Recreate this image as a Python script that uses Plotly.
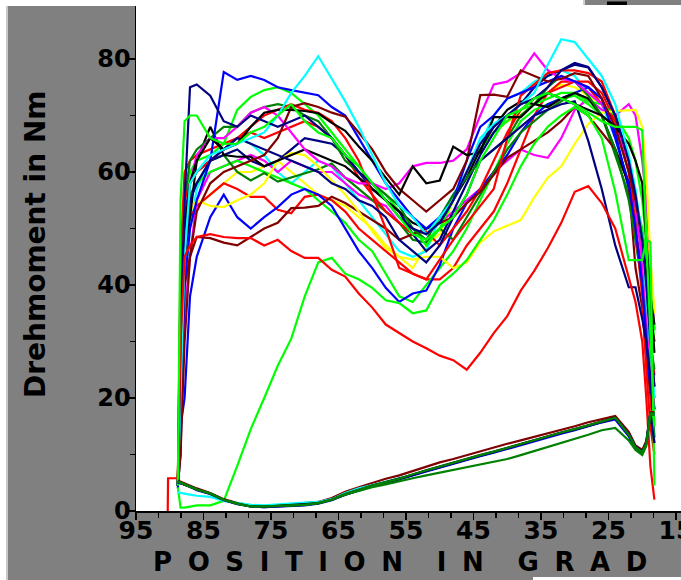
import plotly.graph_objects as go

N = None
# x grid (degrees) shared by all series
X = [90.3, 90.25, 88.8, 88.4, 87.8, 87.0,
     86, 84, 82, 80, 78, 76, 74, 72, 70, 68, 66,
     64, 62, 60, 58, 56, 54, 52, 50, 48, 46, 44,
     42, 40, 38, 36, 34, 32, 30, 28, 26, 24, 22,
     21, 20, 19.4, 18.8, 18.2]

CYAN_HI = [N, N, 4.5, 20, 45, 58,
           60, 63, 64, 65, 66, 67, 70, 74, 77, 80.5, 76.5,
           72.5, 68, 63, 58, 54, 52, 49, 52, 55, 60, 66,
           68.5, 70, 72, 74, 79, 83.5, 83, 80, 77, 72, 63,
           57, 48, 38, 29, 20]
BLUE_HI = [N, N, 4.5, 20, 40, 50,
           55, 62, 77.7, 76.3, 77, 76.3, 75, 74.5, 74, 73.6, 71.5,
           70, 66, 62, 58, 55, 52, 50, 52, 55, 62, 68,
           70, 73, 74, 75, 76, 77, 76, 75, 73, 66, 58,
           50, 40, 30, 22, 18]
NAVY_HI = [N, N, 4.5, 30, 55, 75,
           75.5, 73.5, 69, 68, 70, 69, 68, 69, 70, 68, 66,
           63, 60, 58, 55, 52, 50, 49, 51, 55, 60, 65,
           68, 70, 72, 73, 75, 78, 79, 78.5, 75, 70, 62,
           56, 48, 40, 30, 22]
NAVY_DIVE = [N, N, 4.5, 10, 45, 55,
             58, 62, 64, 66, 65, 64, 63, 62, 61, 60, 58,
             57, 55, 54, 52, 48, 46, 44, 47, 52, 56, 62,
             64, 66, 68, 70, 71, 72, 72.5, 65.5, 57, 47, 39.6,
             39.6, 34, 30, 24, 13]
RED_LOW = [0, 5.8, 5.8, 30, 45, 47,
           48.5, 49, 48.5, 48.3, 48.3, 47, 48, 46, 44.8, 44.8, 42.7,
           41.5, 38.5, 36, 33, 31.5, 30, 28.8, 27.5, 26.7, 25, 28,
           31.5, 34.5, 39, 42.5, 46.5, 51, 56.5, 57.5, 54.5, 50, 41,
           37, 30, 20, 8, 2]
LIME_RISER = [N, N, 4.2, 0.6, 0.6, 0.8,
              1.0, 1.0, 1.8, 8, 14.5, 20, 25.7, 30.5, 38, 44, 44.8,
              42, 41, 39.5, 37.3, 36.8, 35, 35.5, 40, 42, 44.4, 48,
              51.5, 56, 61, 65, 68, 70, 71.5, 70, 66, 56.5, 44.4,
              44.4, 44.4, 48, 30, 15]
YELLOW_LO = [N, N, 4.5, 30, 50, 53,
             55, 54, 53.8, 55, 56, 58, 62, 63.4, 63, 61, 58.5,
             56, 53, 49.5, 46.5, 45, 44.5, 45, 45, 43, 44, 47.5,
             49.5, 50.5, 51.5, 55.5, 59, 61, 65, 68.5, 70.5, 70.8, 71,
             71, 68, 60, 45, 35]
MAGENTA_HI = [N, N, 4.5, 25, 50, 58,
              63, 66, 66, 68, 70.5, 71.5, 70, 67, 64, 62, 61,
              59, 58, 58, 57, 58, 61, 61.6, 61.6, 62, 64, 70,
              75.5, 76, 77.5, 81, 78, 76.5, 76, 74, 72, 68, 62,
              54, 44, 36, 26, 18]
MAGENTA_2 = [N, N, 4.5, 15, 35, 45,
             55, 60, 61, 62, 63, 62, 60, 62, 61, 60, 60,
             58, 56, 55, 54, 51, 49, 50, 51, 53, 55, 57,
             60, 62, 64, 63, 62.5, 66, 71, 73, 71, 70, 72,
             70, 62, 55, 45, 32]
BLACK_1 = [N, N, 4.5, 30, 50, 58,
           62, 66, 64, 65, 68, 70.5, 71, 71, 70.8, 70.4, 68.7,
           67.3, 64.5, 62, 59, 56, 61, 58, 58.5, 64.5, 63, 63.5,
           69.7, 69.7, 69.7, 72, 74, 73, 72, 71, 70, 68, 65,
           62, 58, 48, 38, 28]
BLACK_2 = [N, N, 4.5, 20, 45, 52,
           62, 68, 63, 62.7, 62.7, 61, 62, 63, 64, 63, 62,
           61, 59, 57, 55, 53, 51, 50, 51, 55, 59, 64,
           68, 71, 72.5, 72, 71.5, 73, 74, 73, 70, 64, 58,
           54, 48, 42, 38, 33]
MAROON_1 = [N, N, 4.5, 25, 40, 45,
            48.5, 48.3, 47.5, 47, 48.5, 50, 51, 53.6, 53.7, 54, 55.6,
            54.5, 53, 51.5, 50, 48, 49, 50, 51, 52, 54.5, 56.5,
            59.5, 62.5, 64, 65.5, 67, 69, 71.5, 70, 67, 64, 58,
            43, 36, 27, 21, 20]
MAROON_2 = [N, N, 4.5, 10, 30, 45,
            53, 58, 60, 61, 62, 63, 66, 71.5, 72.2, 71.5, 70.5,
            69.8, 67, 64, 60, 57, 55, 53, 55, 57, 62, 73.6,
            73.7, 73.3, 78, 77, 76, 76.5, 77.5, 77, 73, 68, 60,
            55, 48, 40, 34, 30]
LIME_HI = [N, N, 4.5, 55, 69, 70,
           70, 66, 65, 65, 67, 68, 70, 72, 69, 67, 66,
           63, 61, 58, 55, 52, 49, 48, 50, 52, 56, 62,
           66, 70, 71, 73, 74, 73, 72, 70.5, 69, 68, 68,
           68, 67.4, 48, 47.6, 4.5]
LIME_2 = [N, N, 4.5, 40, 55, 60,
          62, 63, 65, 71, 73.3, 74.5, 75, 74, 72, 70, 67,
          64, 61, 58, 56, 53, 50, 47, 50, 55, 60, 64,
          67, 69, 71, 72, 73, 74, 74, 72.5, 72, 70, 66,
          62, 55, 48, 40, 32]
DGREEN_1 = [N, N, 4.5, 40, 52, 56,
            58, 62, 63, 60, 58.5, 59.8, 58.3, 59, 59.8, 60.5, 61.5,
            59, 57, 55, 53, 51, 48, 47.5, 50, 48, 52, 56,
            60, 64, 67, 69, 71, 72.5, 74, 73, 70, 63, 56,
            52, 46, 40, 25, 18]
DGREEN_2 = [N, N, 4.5, 35, 55, 62,
            64, 66, 68, 68, 70.5, 71.5, 72, 71.5, 70, 69, 66,
            62, 60, 58, 56, 54, 50, 48, 52, 56, 59, 62,
            64, 66, 70, 72, 75, 77, 76, 73.5, 70, 64, 55,
            48, 40, 35, 30, 25]
RED_HI = [N, N, 6, 40, 55, 58,
          60, 62, 64, 66, 68, 70, 71, 72, 71, 70.5, 69,
          66, 62, 56, 50, 43, 42, 41, 44.5, 48, 51, 54,
          57, 66, 73.5, 75.5, 77.5, 78, 78, 77.5, 76, 70, 62,
          50, 38, 25, 15, 10]
RED_2 = [N, N, 5, 35, 50, 52,
         54, 56, 58, 57, 55.6, 55.6, 53.3, 52.7, 55.6, 56, 55,
         53, 50, 48, 46, 44, 42, 41, 41, 43, 47, 50,
         53, 58, 64, 70, 74, 76, 76, 75, 72, 69, 62,
         56, 47, 38, 30, 24]
RED_3 = [N, N, 4.5, 45, 60, 62,
         63, 64, 65, 66, 67, 66, 67, 68, 69, 68, 66,
         63, 59, 56, 53, 51, 49, 49.5, 47, 50, 53, 57,
         62, 67, 71, 73, 74, 75, 76, 76, 74, 69, 60,
         50, 40, 30, 20, 12]
BLUE_2 = [N, N, 4, 15, 20, 38,
          45, 52, 56, 52, 50, 52, 53.8, 56, 57, 56, 54,
          50, 46, 43, 39.5, 37, 38.5, 39, 43.5, 50, 54.5, 57,
          60, 63, 67, 70, 72, 73, 74, 75, 73, 67, 57,
          50, 42, 32, 25, 20]
CYAN_2 = [N, N, 4.5, 25, 40, 50,
          57, 62, 64, 66, 65, 63, 60, 58, 60, 62, 61,
          58, 55, 52, 49, 46, 45, 46, 52, 56, 60, 65,
          70, 73, 74, 76, 77, 78, 77, 74, 72, 66, 58,
          48, 40, 30, 22, 16]
LIME_3 = [N, N, 4.5, 30, 48, 55,
          58, 60, 61, 62, 61, 60, 59, 58, 57, 55, 53,
          51, 48, 46, 42, 38, 37, 40, 43, 46, 50, 55,
          60, 65, 69, 71, 72, 73, 73.5, 72, 70, 68, 60,
          55, 50, 45, 38, 30]
NAVY_2 = [N, N, 4.5, 35, 52, 58,
          60, 62, 63, 64, 62, 61, 62, 64, 66, 65.5, 65,
          63, 60, 57, 55, 53, 49, 46, 48, 53, 58, 63,
          67, 70, 72, 75, 77, 78, 79.3, 78.6, 75, 70, 62,
          56, 48, 40, 30, 22]
YELLOW_2 = [N, N, 4.5, 20, 45, 52,
            54, 56, 58, 60, 60, 61, 62, 60, 58, 56, 55,
            54, 52, 50, 47, 45, 43, 47, 49, 55, 60, 64,
            67, 69, 70, 72, 74, 75.5, 75, 73.5, 72, 70, 66,
            62, 58, 52, 44, 35]

# low-torque bundle
LOW_MAROON = [N, N, 5.4, 5.2, 5.0, 4.6,
              4.0, 3.2, 2.1, 1.4, 0.9, 0.8, 1.0, 1.1, 1.3, 1.6, 2.3,
              3.4, 4.2, 5.0, 5.7, 6.3, 7.1, 7.9, 8.6, 9.2, 9.9, 10.6,
              11.2, 11.9, 12.5, 13.1, 13.8, 14.4, 15.0, 15.7, 16.3, 16.8, 14.0,
              11.6, 10.8, 12.4, 17.5, 17.5]
LOW_BLUE = [N, N, 5.0, 4.9, 4.7, 4.3,
            3.7, 3.0, 1.9, 1.2, 0.8, 0.7, 0.8, 0.9, 1.0, 1.3, 1.9,
            2.9, 3.7, 4.4, 5.0, 5.6, 6.3, 7.0, 7.7, 8.3, 9.0, 9.7,
            10.3, 11.0, 11.7, 12.3, 13.0, 13.7, 14.3, 15.0, 15.7, 16.2, 13.2,
            11.0, 10.2, 11.8, 17.0, 17.0]
LOW_CYAN = [N, N, 3.3, 3.2, 3.0, 2.9,
            2.7, 2.5, 1.8, 1.4, 1.1, 1.0, 1.2, 1.4, 1.5, 1.6, 2.1,
            3.2, 4.0, 4.6, 5.2, 5.7, 6.4, 7.1, 7.8, 8.4, 9.1, 9.8,
            10.4, 11.1, 11.8, 12.4, 13.1, 13.8, 14.4, 15.1, 15.8, 16.4, 13.4,
            11.2, 10.3, 11.9, 17.2, 17.2]
LOW_NAVY = [N, N, 5.1, 4.9, 4.7, 4.3,
            3.8, 3.0, 2.0, 1.3, 0.8, 0.7, 0.8, 0.9, 1.1, 1.4, 2.0,
            2.9, 3.7, 4.4, 5.0, 5.6, 6.4, 7.1, 7.8, 8.4, 9.1, 9.8,
            10.4, 11.1, 11.8, 12.4, 13.1, 13.8, 14.4, 15.1, 15.8, 16.4, 13.6,
            11.4, 10.5, 12.1, 17.3, 12.0]
LOW_BLACK = [N, N, 5.2, 5.0, 4.7, 4.4,
             3.8, 3.1, 2.0, 1.3, 0.8, 0.8, 0.9, 1.0, 1.2, 1.4, 2.0,
             3.0, 3.8, 4.5, 5.1, 5.7, 6.4, 7.2, 7.9, 8.5, 9.2, 9.9,
             10.5, 11.2, 11.9, 12.5, 13.2, 13.9, 14.5, 15.2, 15.9, 16.5, 13.5,
             11.3, 10.4, 12.0, 17.3, 17.3]
LOW_DGREEN_2 = [N, N, 5.2, 5.0, 4.8, 4.4,
                3.8, 3.1, 2.0, 1.3, 0.8, 0.8, 0.9, 1.0, 1.1, 1.4, 2.0,
                2.9, 3.6, 4.2, 4.7, 5.3, 5.8, 6.3, 6.8, 7.3, 7.8, 8.3,
                8.7, 9.2, 9.9, 10.6, 11.3, 12.0, 12.8, 13.5, 14.3, 14.7, 12.5,
                10.8, 9.9, 11.5, 17.0, 17.0]
LOW_DGREEN = [N, N, 5.2, 5.0, 4.8, 4.4,
              3.8, 3.1, 2.0, 1.3, 0.8, 0.8, 0.9, 1.0, 1.1, 1.4, 2.0,
              3.0, 3.8, 4.5, 5.1, 5.7, 6.5, 7.2, 7.9, 8.5, 9.2, 9.9,
              10.5, 11.2, 11.9, 12.5, 13.2, 13.9, 14.5, 15.2, 15.9, 16.5, 13.5,
              11.3, 10.4, 12.0, 17.3, 17.3]

X_TICKS = [95, 85, 75, 65, 55, 45, 35, 25, 15]
Y_TICKS = [0, 20, 40, 60, 80]
X_TITLE_WORDS = ["POSITION", "IN", "GRAD"]
Y_TITLE = "Drehmoment in Nm"

RED, BLUE, NAVY, LIME = "#ff0000", "#0000ff", "#000080", "#00ff00"
DGREEN, CYAN, MAGENTA, YELLOW = "#008000", "#00ffff", "#ff00ff", "#ffff00"
BLACK, MAROON = "#000000", "#800000"

SERIES = [
    (YELLOW_2, YELLOW), (CYAN_2, CYAN), (RED_2, RED), (MAGENTA_2, MAGENTA),
    (LIME_3, LIME), (BLUE_2, BLUE), (DGREEN_1, DGREEN), (RED_3, RED),
    (LIME_2, LIME), (NAVY_2, NAVY), (MAROON_1, MAROON), (YELLOW_LO, YELLOW),
    (BLACK_2, BLACK), (DGREEN_2, DGREEN), (MAGENTA_HI, MAGENTA), (RED_HI, RED),
    (BLUE_HI, BLUE), (NAVY_DIVE, NAVY), (MAROON_2, MAROON), (BLACK_1, BLACK),
    (CYAN_HI, CYAN), (NAVY_HI, NAVY), (LIME_RISER, LIME), (RED_LOW, RED),
    (LIME_HI, LIME),
    (LOW_MAROON, MAROON), (LOW_CYAN, CYAN), (LOW_BLUE, BLUE), (LOW_BLACK, BLACK),
    (LOW_NAVY, NAVY), (LOW_DGREEN_2, DGREEN), (LOW_DGREEN, DGREEN),
]

fig = go.Figure()
for vals, col in SERIES:
    fig.add_trace(go.Scatter(x=X, y=vals, mode="lines",
                             line=dict(color=col, width=2.2),
                             showlegend=False, hoverinfo="skip"))

W, H = 681, 580
L, R, T, B = 136, 0, 0, 69
PW, PH = W - L - R, H - T - B
PX_PER_X = 6.75
PX_PER_Y = 5.65
x_right = 95 - PW / PX_PER_X
y_top = PH / PX_PER_Y


def px(xp):
    return (xp - L) / PW


def py(yp):
    return (H - B - yp) / PH


yfont = dict(family="DejaVu Sans", size=24, color="black", weight="bold")
xfont = dict(family="DejaVu Sans", size=25, color="black", weight="bold")
LG = "\u2002\u200a"
WG = "\u2003\u2009\u200a"
x_title = WG.join(LG.join(w) for w in X_TITLE_WORDS)

fig.update_layout(
    width=W, height=H,
    margin=dict(l=L, r=R, t=T, b=B, autoexpand=False),
    paper_bgcolor="#808080", plot_bgcolor="white",
    xaxis=dict(range=[95, x_right], tickvals=X_TICKS, ticks="outside",
               ticklen=7, tickwidth=1.5, tickcolor="black",
               showline=True, linecolor="black", linewidth=1.5,
               showgrid=False, zeroline=False, tickfont=xfont,
               ticklabeloverflow="allow", ticklabelstandoff=-11,
               automargin=False,
               minor=dict(dtick=10 / 3, tick0=95, ticks="outside", ticklen=5,
                          tickcolor="black", tickwidth=1.2, showgrid=False)),
    yaxis=dict(range=[0, y_top], tickvals=Y_TICKS, ticks="outside",
               ticklen=7, tickwidth=1.5, tickcolor="black",
               showline=True, linecolor="black", linewidth=1.5,
               showgrid=False, zeroline=False, tickfont=yfont,
               ticklabelstandoff=-8, automargin=False,
               minor=dict(dtick=10, tick0=0, ticks="outside", ticklen=5,
                          tickcolor="black", tickwidth=1.2, showgrid=False)),
    annotations=[
        dict(text=x_title, xref="paper", yref="paper", x=px(400), y=py(562),
             xanchor="center", yanchor="middle", showarrow=False,
             font=dict(family="DejaVu Sans", size=26, color="black", weight="bold")),
        dict(text=Y_TITLE, xref="paper", yref="paper", x=px(35), y=py(244),
             xanchor="center", yanchor="middle", showarrow=False, textangle=-90,
             font=dict(family="DejaVu Sans", size=28, color="black", weight="bold")),
    ],
    shapes=[
        dict(type="rect", xref="paper", yref="paper", x0=px(0), x1=px(6), y0=py(H), y1=py(0),
             fillcolor="white", line_width=0, layer="above"),
        dict(type="rect", xref="paper", yref="paper", x0=px(6), x1=px(8), y0=py(H), y1=py(6),
             fillcolor="#c8c8c8", line_width=0, layer="above"),
        dict(type="rect", xref="paper", yref="paper", x0=px(0), x1=px(583), y0=py(6), y1=py(0),
             fillcolor="white", line_width=0, layer="above"),
        dict(type="rect", xref="paper", yref="paper", x0=px(583), x1=px(W), y0=py(5), y1=py(0),
             fillcolor="#808080", line_width=0, layer="above"),
        dict(type="rect", xref="paper", yref="paper", x0=px(583), x1=px(585), y0=py(5), y1=py(0),
             fillcolor="#d0d0d0", line_width=0, layer="above"),
        dict(type="rect", xref="paper", yref="paper", x0=px(607), x1=px(627), y0=py(5), y1=py(1.5),
             fillcolor="black", line_width=0, layer="above"),
        dict(type="rect", xref="paper", yref="paper", x0=px(533), x1=px(W), y0=py(H), y1=py(577),
             fillcolor="white", line_width=0, layer="above"),
    ],
)

fig.write_html("out.html", config={"displayModeBar": False, "staticPlot": True},
               post_script="document.body.style.margin='0px';document.body.style.overflow='hidden';")
